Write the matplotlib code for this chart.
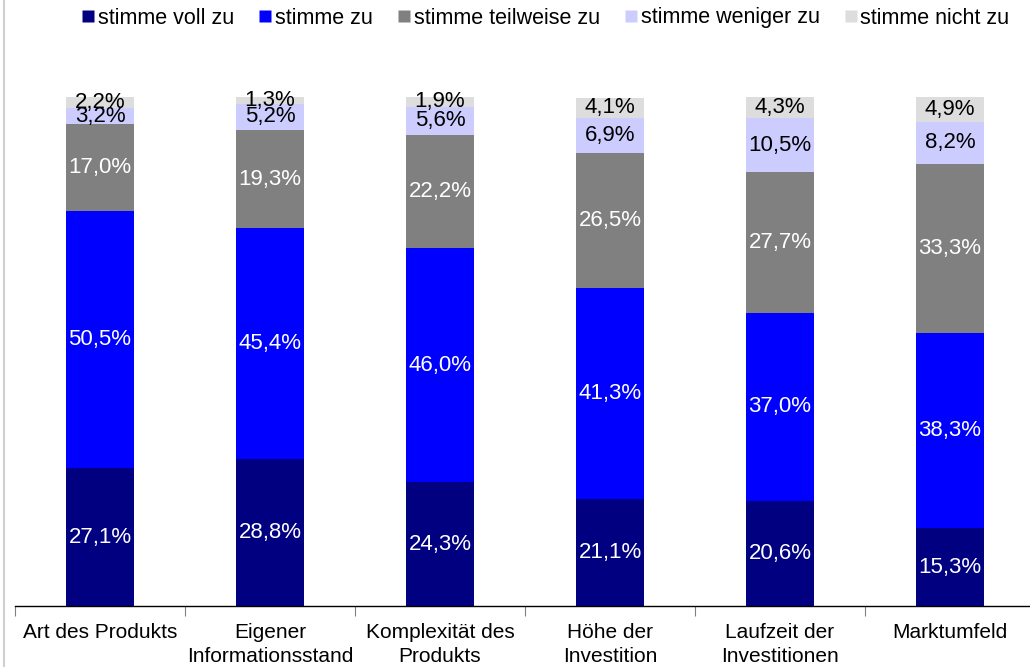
import matplotlib
matplotlib.use("Agg")
import matplotlib.pyplot as plt
import numpy as np
from matplotlib.lines import Line2D

plt.rcParams['font.family'] = ['Liberation Sans', 'DejaVu Sans']

categories = ["Art des Produkts", "Eigener\nInformationsstand", "Komplexität des\nProdukts",
              "Höhe der\nInvestition", "Laufzeit der\nInvestitionen", "Marktumfeld"]
series_names = ["stimme voll zu", "stimme zu", "stimme teilweise zu", "stimme weniger zu", "stimme nicht zu"]
voll = [27.1, 28.8, 24.3, 21.1, 20.6, 15.3]
zu = [50.5, 45.4, 46.0, 41.3, 37.0, 38.3]
teilweise = [17.0, 19.3, 22.2, 26.5, 27.7, 33.3]
weniger = [3.2, 5.2, 5.6, 6.9, 10.5, 8.2]
nicht = [2.2, 1.3, 1.9, 4.1, 4.3, 4.9]
colors = ["#000080", "#0000FF", "#808080", "#CCCCFF", "#DDDDDD"]
text_colors = ["white", "white", "white", "black", "black"]

W, H = 1030, 667
fig = plt.figure(figsize=(W/100, H/100), dpi=100)
ax = fig.add_axes([15/W, 1-606/H, 1020/W, (606-97)/H])

x = np.arange(len(categories))
bottom = np.zeros(len(categories))
handles = []
for vals, c, tc, name in zip([voll, zu, teilweise, weniger, nicht], colors, text_colors, series_names):
    vals = np.array(vals)
    ax.bar(x, vals, bottom=bottom, width=0.4, color=c, edgecolor='none')
    for xi, b, v in zip(x, bottom, vals):
        ax.text(xi, b + v/2, f"{v:.1f}%".replace('.', ','), ha='center', va='center',
                color=tc, fontsize=16)
    bottom += vals
    handles.append(Line2D([], [], marker='s', linestyle='none', markersize=8,
                          markerfacecolor=c, markeredgecolor='none', label=name))

ax.set_xlim(-0.5, len(categories) - 0.5)
ax.set_ylim(0, 100)
for s in ['top', 'right', 'left']:
    ax.spines[s].set_visible(False)
ax.spines['bottom'].set_color('#000000')
ax.spines['bottom'].set_linewidth(1)
ax.set_yticks([])
ax.set_xticks(x)
ax.set_xticklabels(categories, fontsize=15, linespacing=1.38)
ax.tick_params(axis='x', length=0, pad=12)
ax.set_xticks(np.arange(len(categories) + 1) - 0.5, minor=True)
ax.tick_params(axis='x', which='minor', length=7, color='#808080', width=0.8)

fig.legend(handles=handles, loc='center', bbox_to_anchor=(545/W, 1-18/H), ncol=5,
           frameon=False, fontsize=15.5, handletextpad=0.1, columnspacing=1.1, handlelength=0.7)

fig.add_artist(Line2D([4/W, 4/W], [0, 1], color='#D0D0D0', linewidth=1.5))

fig.savefig("out.png", dpi=100)
